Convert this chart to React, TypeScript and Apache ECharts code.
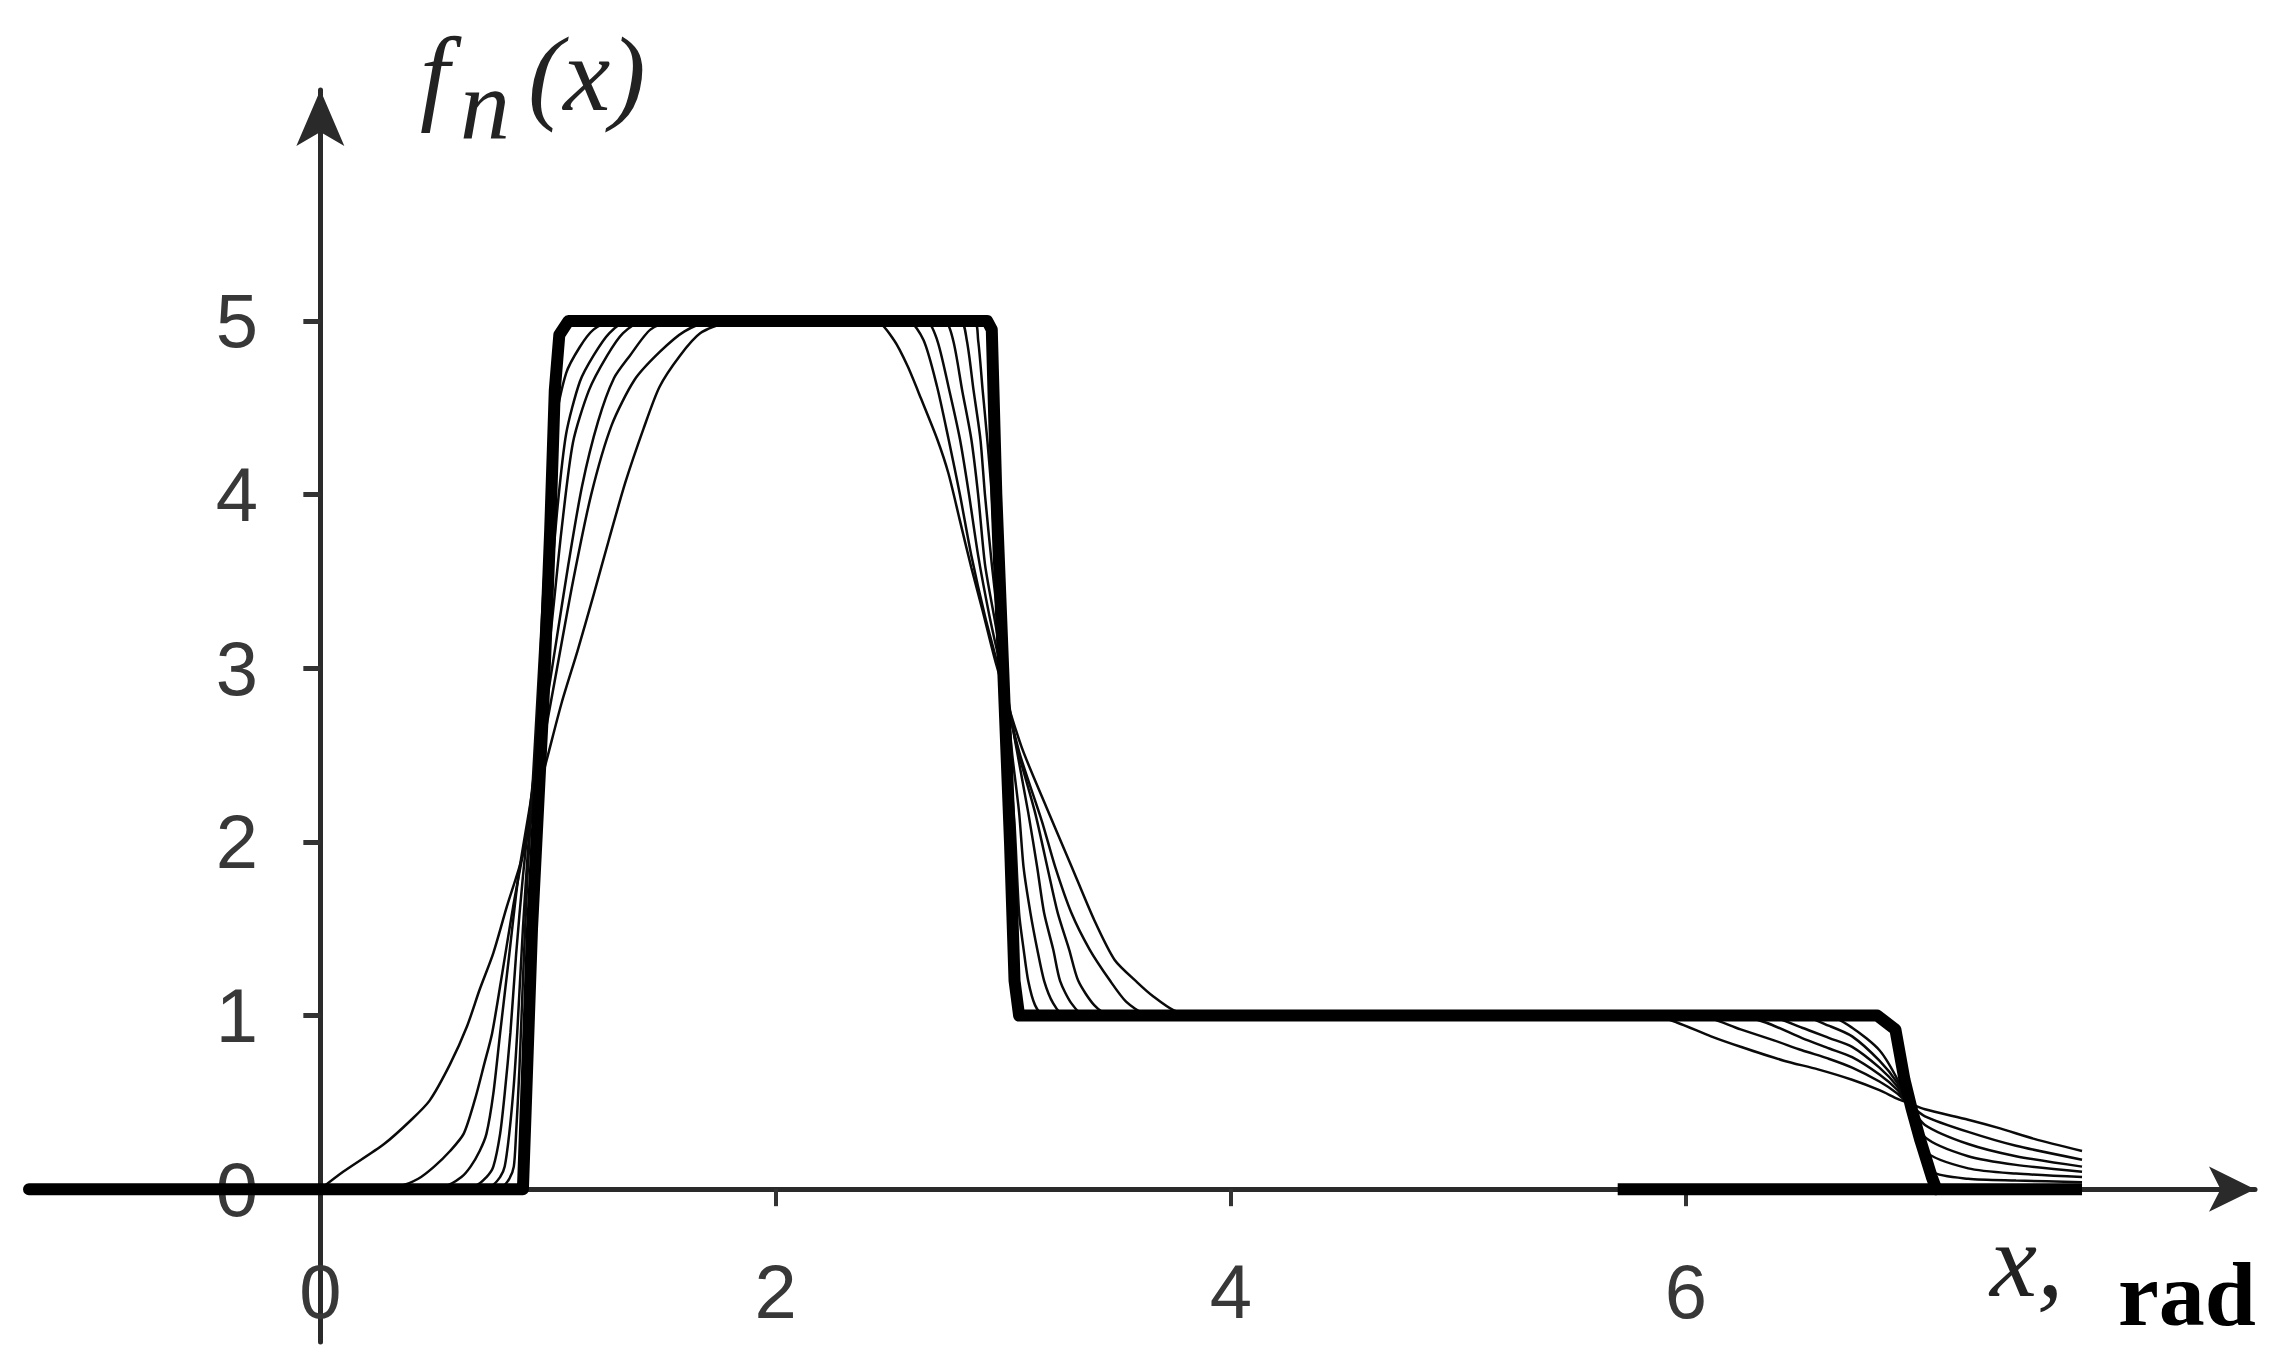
import React, { useEffect, useRef } from "react";
import * as echarts from "echarts";

// Axis ticks / labels
const xTickValues = [2, 4, 6];
const xLabelValues = [0, 2, 4, 6];
const yTickValues = [1, 2, 3, 4, 5];
const yLabelValues = [0, 1, 2, 3, 4, 5];

// Family of approximating curves f_n(x) (x in rad, f value)
const curveA = [
  [0, 0], [0.1, 0.1], [0.28, 0.26], [0.4, 0.4], [0.48, 0.51], [0.57, 0.72], [0.645, 0.94], [0.7, 1.15],
  [0.76, 1.36], [0.82, 1.63], [0.88, 1.88], [0.95, 2.25], [1.0, 2.5], [1.06, 2.8], [1.13, 3.1], [1.2, 3.42],
  [1.27, 3.75], [1.34, 4.07], [1.42, 4.38], [1.49, 4.62], [1.58, 4.8], [1.67, 4.93], [1.78, 4.99], [1.9, 5.0],
  [2.44, 5.0], [2.52, 4.89], [2.58, 4.74], [2.64, 4.55], [2.71, 4.32], [2.76, 4.12], [2.81, 3.85], [2.86, 3.58],
  [2.91, 3.33], [2.97, 3.02], [3.08, 2.55], [3.19, 2.2], [3.3, 1.86], [3.4, 1.55], [3.49, 1.32], [3.59, 1.19],
  [3.66, 1.11], [3.75, 1.03], [3.85, 1.0],
  [5.85, 1.0], [5.96, 0.96], [6.11, 0.88], [6.24, 0.82], [6.43, 0.74], [6.58, 0.69], [6.73, 0.63], [6.85, 0.57],
  [6.93, 0.52], [6.97, 0.5], [7.05, 0.46], [7.24, 0.4], [7.38, 0.35], [7.53, 0.29], [7.74, 0.22],
];
const curveB = [
  [0, 0], [0.35, 0.02], [0.43, 0.06], [0.5, 0.13], [0.57, 0.22], [0.63, 0.32], [0.68, 0.52], [0.72, 0.72],
  [0.755, 0.9], [0.8, 1.25], [0.85, 1.65], [0.9, 2.0], [0.97, 2.5], [1.04, 3.0], [1.11, 3.5], [1.19, 4.0],
  [1.28, 4.4], [1.38, 4.66], [1.49, 4.82], [1.6, 4.94], [1.72, 5.0],
  [2.58, 5.0], [2.65, 4.89], [2.71, 4.62], [2.76, 4.32], [2.81, 4.0], [2.86, 3.65], [2.92, 3.3], [2.98, 3.0],
  [3.07, 2.52], [3.17, 2.12], [3.23, 1.85], [3.3, 1.59], [3.38, 1.38], [3.47, 1.2], [3.54, 1.08], [3.62, 1.01],
  [3.7, 1.0],
  [6.05, 1.0], [6.24, 0.92], [6.38, 0.86], [6.51, 0.8], [6.63, 0.75], [6.73, 0.7], [6.85, 0.62], [6.93, 0.55],
  [6.97, 0.5], [7.05, 0.42], [7.24, 0.33], [7.45, 0.25], [7.74, 0.17],
];
const curveC = [
  [0, 0], [0.55, 0.02], [0.62, 0.07], [0.66, 0.13], [0.7, 0.22], [0.73, 0.32], [0.76, 0.55], [0.79, 0.9],
  [0.83, 1.35], [0.87, 1.8], [0.92, 2.2], [0.97, 2.6], [1.03, 3.1], [1.09, 3.6], [1.15, 4.05], [1.22, 4.42],
  [1.29, 4.67], [1.36, 4.8], [1.45, 4.95], [1.55, 5.0],
  [2.66, 5.0], [2.71, 4.89], [2.76, 4.62], [2.81, 4.32], [2.85, 4.0], [2.89, 3.65], [2.94, 3.3], [2.99, 3.0],
  [3.06, 2.55], [3.14, 2.17], [3.2, 1.82], [3.24, 1.59], [3.29, 1.38], [3.33, 1.2], [3.4, 1.06], [3.47, 1.0],
  [6.2, 1.0], [6.35, 0.96], [6.51, 0.87], [6.63, 0.81], [6.73, 0.76], [6.85, 0.66], [6.93, 0.57], [6.97, 0.5],
  [7.05, 0.37], [7.24, 0.26], [7.45, 0.19], [7.74, 0.13],
];
const curveD = [
  [0, 0], [0.68, 0.02], [0.73, 0.07], [0.76, 0.13], [0.79, 0.32], [0.81, 0.55], [0.835, 0.9], [0.86, 1.35],
  [0.89, 1.8], [0.93, 2.3], [0.97, 2.7], [1.02, 3.3], [1.06, 3.8], [1.11, 4.3], [1.18, 4.6], [1.26, 4.8],
  [1.33, 4.93], [1.42, 5.0],
  [2.74, 5.0], [2.78, 4.89], [2.82, 4.6], [2.86, 4.32], [2.89, 4.0], [2.92, 3.6], [2.96, 3.3], [3.0, 3.0],
  [3.05, 2.6], [3.11, 2.17], [3.15, 1.85], [3.18, 1.59], [3.22, 1.38], [3.25, 1.2], [3.3, 1.07], [3.36, 1.0],
  [6.35, 1.0], [6.51, 0.93], [6.63, 0.87], [6.73, 0.82], [6.85, 0.7], [6.93, 0.59], [6.97, 0.5], [7.05, 0.3],
  [7.24, 0.19], [7.45, 0.14], [7.74, 0.1],
];
const curveE = [
  [0, 0], [0.75, 0.02], [0.79, 0.07], [0.81, 0.13], [0.83, 0.32], [0.85, 0.6], [0.865, 0.9], [0.89, 1.5],
  [0.92, 2.1], [0.96, 2.7], [1.0, 3.3], [1.04, 3.9], [1.08, 4.35], [1.14, 4.65], [1.2, 4.8], [1.27, 4.93],
  [1.35, 5.0],
  [2.81, 5.0], [2.84, 4.89], [2.87, 4.6], [2.9, 4.32], [2.92, 4.0], [2.95, 3.6], [2.98, 3.25], [3.01, 2.9],
  [3.04, 2.5], [3.07, 2.17], [3.09, 1.85], [3.12, 1.59], [3.15, 1.38], [3.18, 1.2], [3.22, 1.07], [3.27, 1.0],
  [6.5, 1.0], [6.63, 0.94], [6.73, 0.88], [6.85, 0.74], [6.93, 0.61], [6.97, 0.5], [7.05, 0.22], [7.24, 0.12],
  [7.45, 0.09], [7.74, 0.07],
];
const curveF = [
  [0, 0], [0.8, 0.02], [0.83, 0.06], [0.85, 0.13], [0.86, 0.32], [0.875, 0.7], [0.89, 1.2], [0.91, 1.8],
  [0.94, 2.5], [0.97, 3.2], [1.0, 3.9], [1.03, 4.4], [1.08, 4.7], [1.14, 4.85], [1.2, 4.95], [1.28, 5.0],
  [2.87, 5.0], [2.89, 4.89], [2.91, 4.6], [2.93, 4.32], [2.95, 4.0], [2.97, 3.5], [2.99, 3.1], [3.02, 2.6],
  [3.05, 2.1], [3.07, 1.59], [3.09, 1.38], [3.11, 1.2], [3.14, 1.06], [3.18, 1.0],
  [6.62, 1.0], [6.73, 0.93], [6.85, 0.8], [6.93, 0.63], [6.97, 0.5], [7.02, 0.25], [7.08, 0.1], [7.24, 0.06],
  [7.45, 0.05], [7.74, 0.04],
];
// Limit function (thick line)
const limitCurve = [
  [-1.28, 0], [0.89, 0], [0.93, 1.5], [0.98, 2.8], [1.01, 3.8], [1.03, 4.6], [1.05, 4.92], [1.09, 5.0],
  [2.93, 5.0], [2.95, 4.95], [2.97, 4.0], [3.0, 3.0], [3.03, 2.0], [3.05, 1.2], [3.07, 1.0],
  [6.84, 1.0], [6.92, 0.92], [6.96, 0.63], [6.99, 0.47], [7.03, 0.28], [7.08, 0.07], [7.1, 0.0],
];
const tailZero = [[5.7, 0], [7.74, 0]];

const thinCurves = [curveA, curveB, curveC, curveD, curveE, curveF];

export default function App() {
  const ref = useRef<HTMLDivElement>(null);
  useEffect(() => {
    const chart = echarts.init(ref.current as HTMLDivElement, null, { renderer: "svg" });
    const serif = '"Liberation Serif", "Times New Roman", serif';
    const thinSeries = thinCurves.map((d, i) => ({
      type: "line",
      name: "f" + (i + 1),
      data: d,
      showSymbol: false,
      smooth: 0.25,
      lineStyle: { color: "#0a0a0a", width: 2.5 },
      z: 3,
    }));
    // grid: left 29, right edge at 2255, top at 90, bottom at 1342
    chart.setOption({
      animation: false,
      backgroundColor: "#ffffff",
      grid: { left: 29, right: 33, top: 90, bottom: 26, containLabel: false, outerBoundsMode: "none" },
      xAxis: {
        type: "value",
        min: -1.28,
        max: 8.5,
        axisLine: {
          onZero: true,
          symbol: ["none", "arrow"],
          symbolSize: [34, 46],
          lineStyle: { color: "#2a2a2a", width: 5 },
        },
        axisTick: { show: true, customValues: xTickValues, length: 17, lineStyle: { color: "#333", width: 4 } },
        axisLabel: {
          customValues: xLabelValues,
          fontSize: 76,
          fontFamily: '"Liberation Sans", Arial, sans-serif',
          color: "#383838",
          margin: -89,
        },
        splitLine: { show: false },
      },
      yAxis: {
        type: "value",
        min: -0.88,
        max: 6.33,
        axisLine: {
          onZero: true,
          symbol: ["none", "arrow"],
          symbolSize: [36, 56],
          lineStyle: { color: "#2a2a2a", width: 5 },
        },
        axisTick: { show: true, customValues: yTickValues, length: 17, lineStyle: { color: "#333", width: 5 } },
        axisLabel: {
          customValues: yLabelValues,
          fontSize: 76,
          fontFamily: '"Liberation Sans", Arial, sans-serif',
          color: "#383838",
          margin: -229,
        },
        splitLine: { show: false },
      },
      series: [
        ...thinSeries,
        {
          type: "line",
          name: "limit",
          data: limitCurve,
          showSymbol: false,
          lineStyle: { color: "#000", width: 12, join: "round", cap: "round" },
          z: 4,
        },
        {
          type: "line",
          name: "tail",
          data: tailZero,
          showSymbol: false,
          lineStyle: { color: "#000", width: 12 },
          z: 4,
        },
      ],
      graphic: [
        { type: "text", x: 420, y: 74, style: { text: "f", font: "italic 106px " + serif, fill: "#222", verticalAlign: "middle" } },
        { type: "text", x: 460, y: 104, style: { text: "n", font: "italic 100px " + serif, fill: "#222", verticalAlign: "middle" } },
        { type: "text", x: 528, y: 74, style: { text: "(x)", font: "italic 106px " + serif, fill: "#222", verticalAlign: "middle" } },
        { type: "text", x: 1990, y: 1260, style: { text: "x,", font: "italic 106px " + serif, fill: "#222", verticalAlign: "middle" } },
        { type: "text", x: 2118, y: 1294, style: { text: "rad", font: "bold 92px " + serif, fill: "#000", verticalAlign: "middle" } },
      ],
    });
    return () => chart.dispose();
  }, []);
  return (
    <div
      ref={ref}
      style={{ position: "absolute", left: 0, top: 0, width: 2288, height: 1368, background: "#fff" }}
    />
  );
}
